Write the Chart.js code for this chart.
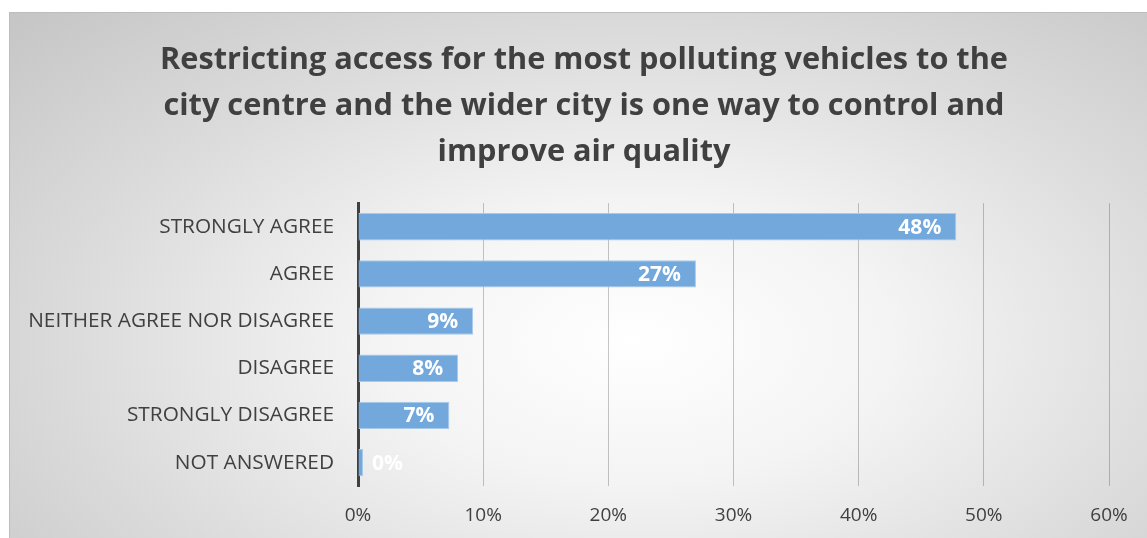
<!DOCTYPE html>
<html>
<head>
<meta charset="utf-8">
<script src="https://cdn.jsdelivr.net/npm/chart.js@4"></script>
<style>
  html, body { margin: 0; padding: 0; background: #fff; overflow: hidden; }
  #box {
    position: absolute; left: 9px; top: 12px; width: 1138px; height: 548px;
    border-top: 1px solid #bdbdbd; border-left: 1px solid #bdbdbd;
    box-sizing: border-box;
    background: radial-gradient(ellipse 75% 85% at 55% 60%, #ffffff 0%, #f4f4f4 30%, #dcdcdc 65%, #c6c6c6 100%);
  }
</style>
</head>
<body>
<div id="box"><canvas id="chart"></canvas></div>
<script>
const categories = ['STRONGLY AGREE', 'AGREE', 'NEITHER AGREE NOR DISAGREE', 'DISAGREE', 'STRONGLY DISAGREE', 'NOT ANSWERED'];
const shares = [47.8, 27.0, 9.2, 8.0, 7.3, 0.4];
const shareLabels = ['48%', '27%', '9%', '8%', '7%', '0%'];
const titleLines = [
  'Restricting access for the most polluting vehicles to the',
  'city centre and the wider city is one way to control and',
  'improve air quality'
];

const font = '"Open Sans", sans-serif';
const textColor = '#404040';

// draws the white percentage labels at the inside end of each bar
const barLabels = {
  id: 'barLabels',
  afterDatasetsDraw(chart) {
    const ctx = chart.ctx;
    const meta = chart.getDatasetMeta(0);
    const x0 = chart.scales.x.getPixelForValue(0);
    ctx.save();
    ctx.font = 'bold 21px ' + font;
    ctx.fillStyle = '#ffffff';
    ctx.textAlign = 'right';
    ctx.textBaseline = 'middle';
    meta.data.forEach((bar, i) => {
      const x = Math.max(bar.x - 15, x0 + 45);
      ctx.fillText(shareLabels[i], x, bar.y + 1);
    });
    ctx.restore();
  }
};

// left padding keeps the title centred like the original, but the long
// category labels must not be clipped at the padding edge
const unclipLabels = {
  id: 'unclipLabels',
  afterLayout(chart) {
    chart.scales.y.left = 0;
  }
};

const ctx = document.getElementById('chart').getContext('2d');
new Chart(ctx, {
  type: 'bar',
  data: {
    labels: categories,
    datasets: [{
      data: shares,
      backgroundColor: '#72a8db',
      borderColor: '#a8caea',
      borderWidth: 1,
      barPercentage: 0.58,
      categoryPercentage: 1
    }]
  },
  options: {
    indexAxis: 'y',
    responsive: true,
    maintainAspectRatio: false,
    animation: false,
    layout: { padding: { left: 49, right: 38, top: 0, bottom: 15 } },
    plugins: {
      legend: { display: false },
      tooltip: { enabled: false },
      title: {
        display: true,
        text: titleLines,
        color: textColor,
        font: { family: font, size: 30.7, weight: 'bold', lineHeight: 1.5 },
        padding: { top: 24, bottom: 28 }
      }
    },
    scales: {
      x: {
        min: 0,
        max: 60,
        ticks: {
          stepSize: 10,
          color: textColor,
          font: { family: font, size: 19 },
          padding: 18,
          callback: v => v + '%'
        },
        grid: { color: 'rgba(0,0,0,0.22)', lineWidth: 1, drawTicks: false },
        border: { display: false }
      },
      y: {
        ticks: {
          color: textColor,
          font: { family: font, size: 20.8 },
          padding: 24
        },
        grid: { display: false, drawTicks: false },
        border: { display: true, color: '#404040', width: 3 },
        afterFit(scale) { scale.width = 299; }
      }
    }
  },
  plugins: [barLabels, unclipLabels]
});
</script>
</body>
</html>
